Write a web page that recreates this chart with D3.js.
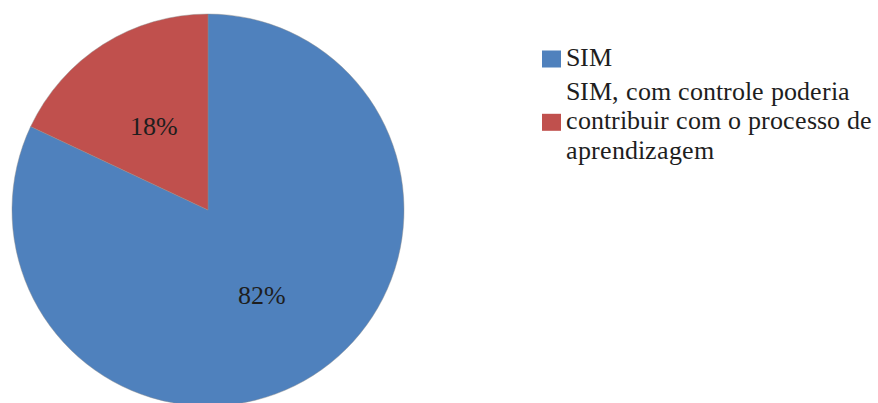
<!DOCTYPE html>
<html>
<head>
<meta charset="utf-8">
<script src="https://cdn.jsdelivr.net/npm/d3@7"></script>
<style>
  @font-face {
    font-family: "ChartSerif";
    src: local("Liberation Serif"), local("LiberationSerif"), local("LiberationSerif-Regular"), local("Times New Roman"), local("Tinos");
  }
</style>
</head>
<body style="margin:0">
<svg id="chart" width="878" height="403"></svg>
<script>
// Responses and their shares
const categories = ["SIM", "SIM, com controle poderia contribuir com o processo de aprendizagem"];
const values = [82, 18];
const valueLabels = ["82%", "18%"];
const colors = ["#4F81BD", "#C0504D"];
// Legend text broken into lines as laid out
const legendLines = [
  ["SIM"],
  ["SIM, com controle poderia", "contribuir com o processo de", "aprendizagem"]
];

const fontStack = "ChartSerif, Liberation Serif, Times New Roman, serif";
const svg = d3.select("#chart");
const cx = 208, cy = 210, radius = 196;

const pie = d3.pie().sort(null).value(d => d.value);
const arcs = pie(values.map((v, i) => ({ value: v, i })));
const arc = d3.arc().innerRadius(0).outerRadius(radius);
const labelArc = d3.arc().innerRadius(radius * 0.51).outerRadius(radius * 0.51);

svg.selectAll("path.slice")
  .data(arcs)
  .join("path")
  .attr("class", "slice")
  .attr("transform", `translate(${cx},${cy})`)
  .attr("d", arc)
  .attr("fill", d => colors[d.data.i])
  .attr("stroke", "rgba(140,140,140,0.6)")
  .attr("stroke-width", 0.75);

// Percentage labels inside the slices
svg.selectAll("text.val")
  .data(arcs)
  .join("text")
  .attr("class", "val")
  .attr("x", d => cx + labelArc.centroid(d)[0])
  .attr("y", d => cy + labelArc.centroid(d)[1])
  .attr("text-anchor", "middle")
  .attr("dy", "0.36em")
  .style("font-family", fontStack)
  .style("font-size", "26px")
  .style("fill", "#1e1e1e")
  .text(d => valueLabels[d.data.i]);

// Legend
const legendX = 542;
const lineH = 29.8;
const firstBaseline = [66, 99.5];
legendLines.forEach((lines, i) => {
  const mid = (lines.length - 1) / 2;
  const midBaseline = firstBaseline[i] + mid * lineH;
  svg.append("rect")
    .attr("x", legendX)
    .attr("y", midBaseline - 15.5)
    .attr("width", 19)
    .attr("height", 17)
    .attr("fill", colors[i]);
  lines.forEach((t, j) => {
    svg.append("text")
      .attr("x", legendX + 24)
      .attr("y", firstBaseline[i] + j * lineH)
      .style("font-family", fontStack)
      .style("font-size", "26px")
      .style("fill", "#1e1e1e")
      .text(t);
  });
});
</script>
</body>
</html>
